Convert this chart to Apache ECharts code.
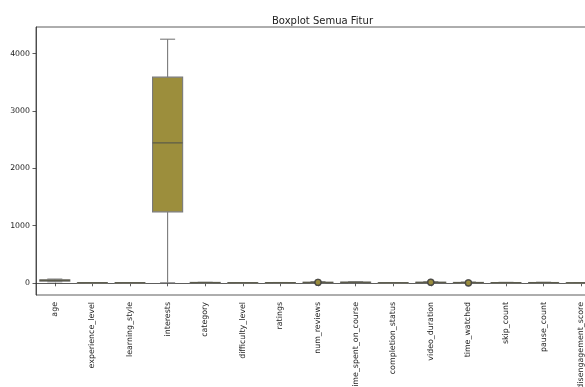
<!DOCTYPE html>
<html>
<head>
<meta charset="utf-8">
<script src="https://cdn.jsdelivr.net/npm/echarts@6/dist/echarts.min.js"></script>
<style>html,body{margin:0;padding:0;background:#fff;overflow:hidden;width:585px;height:387px}#c{width:620px;height:400px}</style>
</head>
<body>
<div id="c"></div>
<script>
const categories = ['age','experience_level','learning_style','interests','category','difficulty_level','ratings','num_reviews','time_spent_on_course','completion_status','video_duration','time_watched','skip_count','pause_count','disengagement_score'];
// [min, q1, median, q3, max]
const boxStats = [
  [18, 30, 42, 53, 65],
  [0, 0, 1, 2, 2],
  [0, 1, 1, 2, 3],
  [0, 1239, 2443, 3590, 4253],
  [0, 2, 4, 7, 9],
  [0, 0, 1, 2, 2],
  [1, 2, 3, 4, 5],
  [0, 3, 6, 10, 20],
  [1, 4, 8, 12, 18],
  [0, 0, 1, 1, 1],
  [1, 4, 7, 10, 18],
  [0, 2, 4, 7, 13],
  [0, 1, 2, 4, 8],
  [0, 1, 3, 5, 10],
  [0, 0.2, 0.5, 0.7, 1]
];
// outliers: [category index, value]
const outliers = [[7, 7], [7, 9], [10, 8], [10, 10], [11, -3], [11, -1]];
const yTicks = [0, 1000, 2000, 3000, 4000];

const chart = echarts.init(document.getElementById('c'), null, {renderer: 'canvas'});
const boxData = boxStats.map((s, i) => [i].concat(s));
const fill = '#9c8e3c', edge = '#7a7a7a', med = '#5a5a4a';
chart.setOption({
  animation: false,
  title: {text: 'Boxplot Semua Fitur', left: 267, top: 11,
    textStyle: {fontFamily: 'DejaVu Sans', fontSize: 10, fontWeight: 'normal', color: '#222'}},
  grid: {left: 36, right: 20, top: 27, bottom: 105, containLabel: false, outerBoundsMode: 'none',
    show: true, borderColor: '#333', borderWidth: 0.8},
  xAxis: {type: 'category', data: categories, boundaryGap: true,
    axisLine: {show: true, lineStyle: {color: '#333', width: 0.8}},
    axisTick: {show: true, alignWithLabel: true, length: 3.5, lineStyle: {color: '#333', width: 0.8}},
    axisLabel: {rotate: 90, interval: 0, margin: 7, hideOverlap: false, fontFamily: 'DejaVu Sans', fontSize: 7.9, color: '#222'},
    splitLine: {show: false}},
  yAxis: {type: 'value', min: -213, max: 4466,
    axisLine: {show: true, lineStyle: {color: '#333', width: 0.8}},
    axisTick: {show: true, length: 3.5, customValues: yTicks, lineStyle: {color: '#333', width: 0.8}},
    axisLabel: {customValues: yTicks, margin: 6, formatter: v => String(v), fontFamily: 'DejaVu Sans', fontSize: 7.8, color: '#222'},
    splitLine: {show: false}},
  series: [{
    type: 'custom',
    data: boxData,
    encode: {x: 0, y: [1, 2, 3, 4, 5]},
    renderItem: function (params, api) {
      const i = api.value(0);
      const band = api.size([1, 0])[0];
      const bw = band * 0.8, cw = bw * 0.5;
      const pMin = api.coord([i, api.value(1)]);
      const pQ1 = api.coord([i, api.value(2)]);
      const pMed = api.coord([i, api.value(3)]);
      const pQ3 = api.coord([i, api.value(4)]);
      const pMax = api.coord([i, api.value(5)]);
      const x = pMin[0];
      const ls = {stroke: edge, lineWidth: 1.1};
      return {type: 'group', children: [
        {type: 'line', shape: {x1: x, y1: pQ1[1], x2: x, y2: pMin[1]}, style: ls},
        {type: 'line', shape: {x1: x, y1: pQ3[1], x2: x, y2: pMax[1]}, style: ls},
        {type: 'line', shape: {x1: x - cw / 2, y1: pMin[1], x2: x + cw / 2, y2: pMin[1]}, style: ls},
        {type: 'line', shape: {x1: x - cw / 2, y1: pMax[1], x2: x + cw / 2, y2: pMax[1]}, style: ls},
        {type: 'rect', shape: {x: x - bw / 2, y: pQ3[1], width: bw, height: Math.max(pQ1[1] - pQ3[1], 0.5)},
          style: {fill: fill, stroke: edge, lineWidth: 1.1}},
        {type: 'line', shape: {x1: x - bw / 2, y1: pMed[1], x2: x + bw / 2, y2: pMed[1]},
          style: {stroke: med, lineWidth: 1.2}}
      ]};
    },
    z: 2
  }, {
    type: 'scatter',
    data: outliers,
    symbol: 'circle',
    symbolSize: 6,
    itemStyle: {color: fill, borderColor: '#444', borderWidth: 1.3},
    z: 3
  }]
});
</script>
</body>
</html>
